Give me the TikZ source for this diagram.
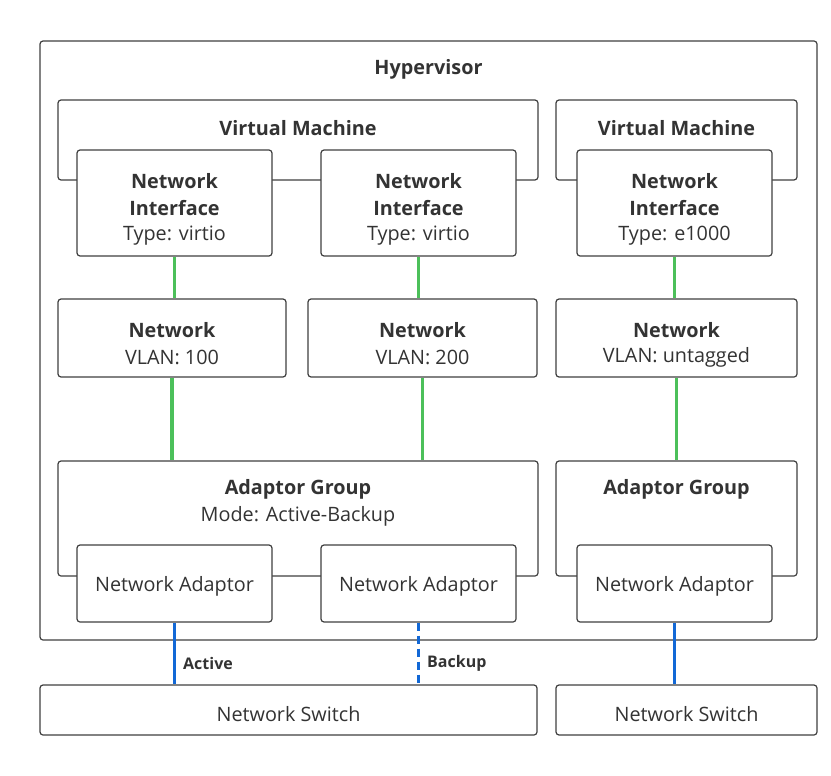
\documentclass[tikz,border=0pt]{standalone}
\usepackage{fontspec}
\setmainfont{Open Sans}
\begin{document}
\begin{tikzpicture}[x=1pt,y=-1pt,
  box/.style={draw=black!75,line width=1.2pt,rounded corners=3pt,fill=white,inner sep=0pt},
  txt/.style={text=black!80,font=\fontsize{19.8}{22}\selectfont,inner sep=0pt,anchor=center,yshift=-1.5pt},
  btxt/.style={txt,font=\fontsize{19.8}{22}\selectfont\bfseries},
  g/.style={draw={rgb,255:red,76;green,192;blue,90},line width=3.2pt},
  b/.style={draw={rgb,255:red,18;green,104;blue,214},line width=3.6pt},
  lab/.style={txt,font=\fontsize{16}{18}\selectfont\bfseries,anchor=west}]
\useasboundingbox (0,0) rectangle (831,776);
\newcommand{\bx}[5]{\node[box,minimum width=#4-#2,minimum height=#5-#3] (#1) at ({(#2+#4)/2},{(#3+#5)/2}) {};}
\bx{hv}{40}{41}{817}{640}
\node[btxt] (hvl) at (428.5,68) {Hypervisor};
\bx{vm1}{58}{100}{538}{180}
\bx{vm2}{556}{100}{797}{180}
\node[btxt] (vm1l) at (298,127) {Virtual Machine};
\node[btxt] (vm2l) at (676.5,127) {Virtual Machine};
\bx{ni1}{77}{150}{272}{256}
\bx{ni2}{321}{150}{516}{256}
\bx{ni3}{577}{150}{772}{256}
\node[btxt] (ni1a) at (174.5,180) {Network}; \node[btxt] (ni1b) at (174.5,207) {Interface}; \node[txt] (ni1c) at (174.5,234) {Type: virtio};
\node[btxt] (ni2a) at (418.5,180) {Network}; \node[btxt] (ni2b) at (418.5,207) {Interface}; \node[txt] (ni2c) at (418.5,234) {Type: virtio};
\node[btxt] (ni3a) at (674.5,180) {Network}; \node[btxt] (ni3b) at (674.5,207) {Interface}; \node[txt] (ni3c) at (674.5,234) {Type: e1000};
\bx{n1}{58}{299}{286}{377}
\bx{n2}{308}{299}{537}{377}
\bx{n3}{556}{299}{797}{377}
\node[btxt] (n1a) at (172,329) {Network}; \node[txt] (n1b) at (172,356) {VLAN: 100};
\node[btxt] (n2a) at (422.5,329) {Network}; \node[txt] (n2b) at (422.5,356) {VLAN: 200};
\node[btxt] (n3a) at (676.5,329) {Network}; \node[txt] (n3b) at (676.5,356) {VLAN: untagged};
\bx{ag1}{58}{461}{538}{576}
\bx{ag2}{556}{461}{797}{576}
\node[btxt] (ag1a) at (298,488) {Adaptor Group}; \node[txt] (ag1b) at (298,515) {Mode: Active-Backup};
\node[btxt] (ag2a) at (676.5,488) {Adaptor Group};
\bx{na1}{77}{545}{272}{622}
\bx{na2}{321}{545}{516}{622}
\bx{na3}{577}{545}{772}{622}
\node[txt] (na1l) at (174.5,585) {Network Adaptor};
\node[txt] (na2l) at (418.5,585) {Network Adaptor};
\node[txt] (na3l) at (674.5,585) {Network Adaptor};
\bx{sw1}{40}{685}{537}{735}
\bx{sw2}{556}{685}{817}{735}
\node[txt] (sw1l) at (288.5,713) {Network Switch};
\node[txt] (sw2l) at (686.5,713) {Network Switch};
\draw[g] (ni1.south) -- (ni1.south |- n1.north);
\draw[g] (ni2.south) -- (ni2.south |- n2.north);
\draw[g] (ni3.south) -- (ni3.south |- n3.north);
\draw[g] (n1.south) -- (n1.south |- ag1.north);
\draw[g] (n2.south) -- (n2.south |- ag1.north);
\draw[g] (n3.south) -- (n3.south |- ag2.north);
\draw[b] (na1.south) -- (na1.south |- sw1.north);
\draw[b,dash pattern=on 8pt off 5pt] (na2.south) -- (na2.south |- sw1.north);
\draw[b] (na3.south) -- (na3.south |- sw2.north);
\node[lab] (act) at (183,662) {Active};
\node[lab] (bak) at (427,662) {Backup};
\end{tikzpicture}
\end{document}
